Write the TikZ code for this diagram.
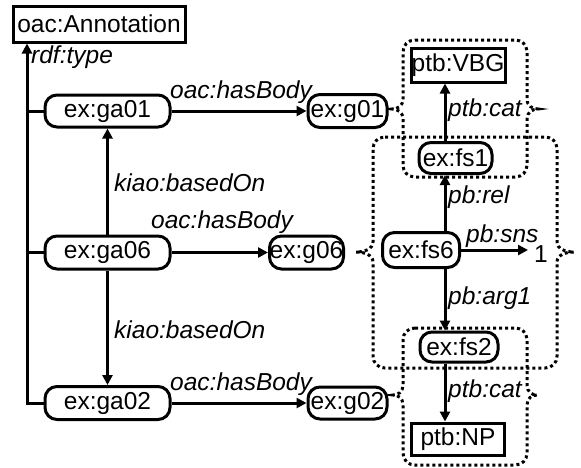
\documentclass[tikz,border=0pt]{standalone}
\usepackage{fontspec}
\setmainfont{Liberation Sans}
\usetikzlibrary{arrows.meta}
\newcommand\bracebox[6]{% #1 L, #2 R, #3 T, #4 B, #5 cusp y, #6 depth
\draw[grp] ({#1+12},#3) -- ({#2-12},#3) .. controls ({#2-5},#3) and (#2,{#3+5}) .. (#2,{#3+12})
 -- (#2,{#5-10}) .. controls (#2,{#5-3}) and ({#2+#6/2},#5) .. ({#2+#6},#5)
 .. controls ({#2+#6/2},#5) and (#2,{#5+3}) .. (#2,{#5+10})
 -- (#2,{#4-12}) .. controls (#2,{#4-5}) and ({#2-5},#4) .. ({#2-12},#4)
 -- ({#1+12},#4) .. controls ({#1+5},#4) and (#1,{#4-5}) .. (#1,{#4-12})
 -- (#1,{#5+10}) .. controls (#1,{#5+3}) and ({#1-#6/2},#5) .. ({#1-#6},#5)
 .. controls ({#1-#6/2},#5) and (#1,{#5-3}) .. (#1,{#5-10})
 -- (#1,{#3+12}) .. controls (#1,{#3+5}) and ({#1+5},#3) .. ({#1+12},#3) -- cycle;}
\begin{document}
\begin{tikzpicture}[x=1pt,y=-1pt,
  every node/.style={font=\fontsize{24.5}{28}\selectfont},
  box/.style={draw, line width=3pt, inner sep=0pt, fill=white},
  rbox/.style={box, rounded corners=12pt},
  lbl/.style={font=\fontsize{24.5}{28}\selectfont\itshape, inner sep=0pt, anchor=west},
  conn/.style={line width=3pt},
  arr/.style={conn, -{Triangle[length=10pt,width=10pt]}},
  grp/.style={line width=3pt, dash pattern=on 3pt off 3pt}]
\useasboundingbox (0,0) rectangle (581,467);

% dotted groups
\bracebox{373}{557}{137}{368}{252}{17}
\bracebox{403}{527}{40}{177}{109}{11}
\bracebox{403}{527}{328}{465}{395}{10}

% nodes
\node[box, minimum width=172pt, minimum height=36pt] (ann) at (99,24) {oac:Annotation};
\node[rbox, minimum width=125pt, minimum height=32pt] (ga01) at (107.5,111) {ex:ga01};
\node[rbox, minimum width=125pt, minimum height=33pt] (ga06) at (107.5,252.5) {ex:ga06};
\node[rbox, minimum width=125pt, minimum height=33pt] (ga02) at (107.5,403) {ex:ga02};
\node[rbox, minimum width=79pt, minimum height=33pt] (g01) at (347.5,111) {ex:g01};
\node[rbox, minimum width=74pt, minimum height=33pt] (g06) at (306.5,252.5) {ex:g06};
\node[rbox, minimum width=79pt, minimum height=32pt] (g02) at (347.5,403) {ex:g02};
\node[box, minimum width=94pt, minimum height=34pt] (VBG) at (458,65) {ptb:VBG};
\node[rbox, minimum width=73pt, minimum height=31pt] (fs1) at (455.5,158) {ex:fs1};
\node[rbox, minimum width=77pt, minimum height=35pt] (fs6) at (421,250) {ex:fs6};
\node[rbox, minimum width=78pt, minimum height=30pt] (fs2) at (459,347) {ex:fs2};
\node[box, minimum width=93pt, minimum height=32pt] (NP) at (458,439) {ptb:NP};
\node[inner sep=0pt] (one) at (541,254) {1};

% connectors left
\coordinate (rail) at (27,0);
\draw[arr] (ga02.west) -| (ann.south -| rail);
\draw[conn] (ga01.west) -- (ga01.west -| rail);
\draw[conn] (ga06.west) -- (ga06.west -| rail);
\draw[arr] (ga06.north) -- (ga01.south);
\draw[arr] (ga06.south) -- (ga02.north);
\draw[arr] (ga01.east) -- (g01.west);
\draw[arr] (ga06.east) -- (g06.west);
\draw[arr] (ga02.east) -- (g02.west);

% connectors right
\coordinate (vl) at (445,0);
\coordinate (snsend) at (528,250);
\draw[arr] (fs6.north -| vl) -- (fs1.south -| vl);
\draw[arr] (fs1.north -| vl) -- (VBG.south -| vl);
\draw[arr] (fs6.south -| vl) -- (fs2.north -| vl);
\draw[arr] (fs2.south -| vl) -- (NP.north -| vl);
\draw[arr] (fs6.east) -- (snsend);

% labels
\node[lbl] (lt) at (31,57) {rdf:type};
\node[lbl] (lb1) at (170,92) {oac:hasBody};
\node[lbl] (lb2) at (151,222) {oac:hasBody};
\node[lbl] (lb3) at (170,384) {oac:hasBody};
\node[lbl] (lk1) at (114,183) {kiao:basedOn};
\node[lbl] (lk2) at (114,330) {kiao:basedOn};
\node[lbl] (lc1) at (448,110) {ptb:cat};
\node[lbl] (lr) at (448,197) {pb:rel};
\node[lbl] (ls) at (466,236) {pb:sns};
\node[lbl] (la) at (448,298) {pb:arg1};
\node[lbl] (lc2) at (448,391) {ptb:cat};
\end{tikzpicture}
\end{document}
